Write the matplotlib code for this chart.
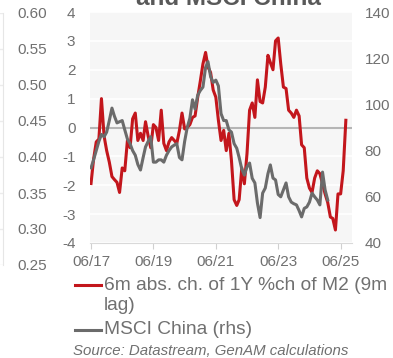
import numpy as np
import pandas as pd
import matplotlib
matplotlib.use('Agg')
import matplotlib.pyplot as plt
from matplotlib.lines import Line2D

plt.rcParams['font.family'] = ['Liberation Sans', 'DejaVu Sans']

# monthly values, both series start in June 2017
m2_start = '2017-06-01'
m2_change = [-1.94, -1.1, -0.5, -0.4, 1.0, -0.3, -0.8, -1.2, -1.7, -1.8,
             -1.9, -2.25, -1.4, -1.5, -0.45, -0.7, 0.3, 0.5, -0.45, -0.2,
             -0.45, 0.2, -0.3, -0.7, 0.1, 0.0, -0.45, 0.6, -0.55, -0.8,
             -0.5, -0.35, -0.45, -0.55, -0.1, 0.5, -0.05, 0.0, 0.1, 0.35,
             0.4, 1.05, 1.6, 2.2, 2.6, 2.1, 1.9, 1.3, 1.05, 0.25,
             -0.45, -0.1, -0.8, -0.2, -1.15, -2.5, -2.7, -2.5, -1.4, -1.95,
             -0.9, 0.6, 0.85, 0.35, 1.65, 0.9, 0.85, 1.4, 2.5, 2.25,
             2.0, 3.0, 3.1, 2.2, 1.4, 1.35, 0.6, 0.5, 0.35, 0.6,
             0.4, -0.6, -0.7, -1.75, -2.1, -2.25, -1.75, -1.5, -1.6, -1.95,
             -2.3, -2.6, -3.1, -3.15, -3.55, -2.3, -2.3, -1.5, 0.25]

msci_start = '2017-06-01'
msci_china = [72.5, 76, 80, 84, 87, 86, 88, 93, 98.4, 95,
              92, 92.5, 93, 89, 85, 83, 80, 78, 74, 71.6,
              77, 81.6, 84, 86, 75, 75, 76, 76, 75, 78,
              80, 81.6, 82.4, 83, 77, 76, 84, 90, 94, 102,
              98, 104, 106, 107.5, 116, 118.5, 112, 109.5, 110.5, 108,
              96, 93, 93, 89, 88, 83, 81, 77, 72, 69.4,
              73, 74.6, 68, 66, 57.3, 51, 61.6, 63.8, 70, 73.8,
              68.1, 67.3, 61, 60, 63, 66, 60, 57.7, 57, 56.5,
              54, 51.3, 55, 55.6, 57.7, 61.6, 60, 58.6, 56.5, 70.7,
              63, 58.6]

left_ticks = [-4, -3, -2, -1, 0, 1, 2, 3, 4]
right_ticks = [40, 60, 80, 100, 120, 140]
side_ticks = [0.25, 0.30, 0.35, 0.40, 0.45, 0.50, 0.55, 0.60]
x_ticks = ['2017-06-01', '2019-06-01', '2021-06-01', '2023-06-01', '2025-06-01']
x_labels = ['06/17', '06/19', '06/21', '06/23', '06/25']

title = 'and MSCI China'
label_m2 = '6m abs. ch. of 1Y %ch of M2 (9m'
label_m2_2 = 'lag)'
label_msci = 'MSCI China (rhs)'
source = 'Source: Datastream, GenAM calculations'

red = '#c3161c'
grey = '#6b6b6b'
txt = '#707070'
fs = 11

W, H = 393, 358
def fx(px):
    return px / W
def fy(py):
    return 1 - py / H

fig = plt.figure(figsize=(W / 100, H / 100), dpi=100)

# neighbouring chart, only its right axis is visible
ax0 = fig.add_axes([fx(-60), fy(265), fx(63), fy(13) - fy(265)])
ax0.set_ylim(0.25, 0.60)
ax0.set_yticks(side_ticks)
ax0.set_yticklabels(['%.2f' % v for v in side_ticks])
ax0.yaxis.tick_right()
ax0.tick_params(axis='y', length=0, pad=10, labelsize=fs, labelcolor=txt)
ax0.set_xticks([])
for s in ax0.spines.values():
    s.set_visible(False)
ax0.spines['right'].set_visible(True)
ax0.spines['right'].set_color('#e6e6e6')
ax0.grid(axis='y', color='#ececec', lw=1)
ax0.set_facecolor('white')

ax = fig.add_axes([fx(90), fy(243), fx(262), fy(12) - fy(243)])
ax.set_facecolor('#f6f6f6')
ax2 = ax.twinx()

d_m2 = pd.date_range(m2_start, periods=len(m2_change), freq='MS')
d_msci = pd.date_range(msci_start, periods=len(msci_china), freq='MS')

ax.axhline(0, color='#b5b5b5', lw=1.5, zorder=1)
ax.plot(d_m2, m2_change, color=red, lw=2.2, zorder=3)
ax2.plot(d_msci, msci_china, color=grey, lw=2.2)

ax.set_ylim(-4, 4)
ax.set_yticks(left_ticks)
ax.set_yticklabels([str(v) for v in left_ticks])
ax2.set_ylim(40, 140)
ax2.set_yticks(right_ticks)
ax2.set_yticklabels([str(v) for v in right_ticks])
ax.set_xlim(pd.Timestamp('2017-05-20'), pd.Timestamp('2025-10-12'))
ax.set_xticks(pd.to_datetime(x_ticks))
ax.set_xticklabels(x_labels)

ax.grid(axis='y', color='white', lw=1.2)
ax.set_axisbelow(True)
for a in (ax, ax2):
    for s in a.spines.values():
        s.set_visible(False)
ax.spines['bottom'].set_visible(True)
ax.spines['bottom'].set_color('#d9d9d9')
ax.tick_params(axis='y', length=0, pad=10.5, labelsize=fs, labelcolor=txt)
ax2.tick_params(axis='y', length=0, pad=9, labelsize=fs, labelcolor=txt)
ax.tick_params(axis='x', length=4, color='#d0d0d0', pad=5, labelsize=fs, labelcolor=txt)

fig.text(fx(228), fy(5), title, ha='center', va='baseline', fontsize=17.5,
         fontweight='bold', color='#595959')

# legend and source
fig.add_artist(Line2D([fx(75), fx(101)], [fy(285), fy(285)], color=red, lw=2.2))
fig.text(fx(104), fy(285), label_m2, ha='left', va='center', fontsize=13.8, color=txt)
fig.text(fx(104), fy(306), label_m2_2, ha='left', va='center', fontsize=13.8, color=txt)
fig.add_artist(Line2D([fx(75), fx(101)], [fy(330), fy(330)], color=grey, lw=2.2))
fig.text(fx(104), fy(330), label_msci, ha='left', va='center', fontsize=13.8, color=txt)
fig.text(fx(73), fy(351), source, ha='left', va='center', fontsize=10.8,
         style='italic', color=txt)

fig.savefig('out.png', dpi=100)
